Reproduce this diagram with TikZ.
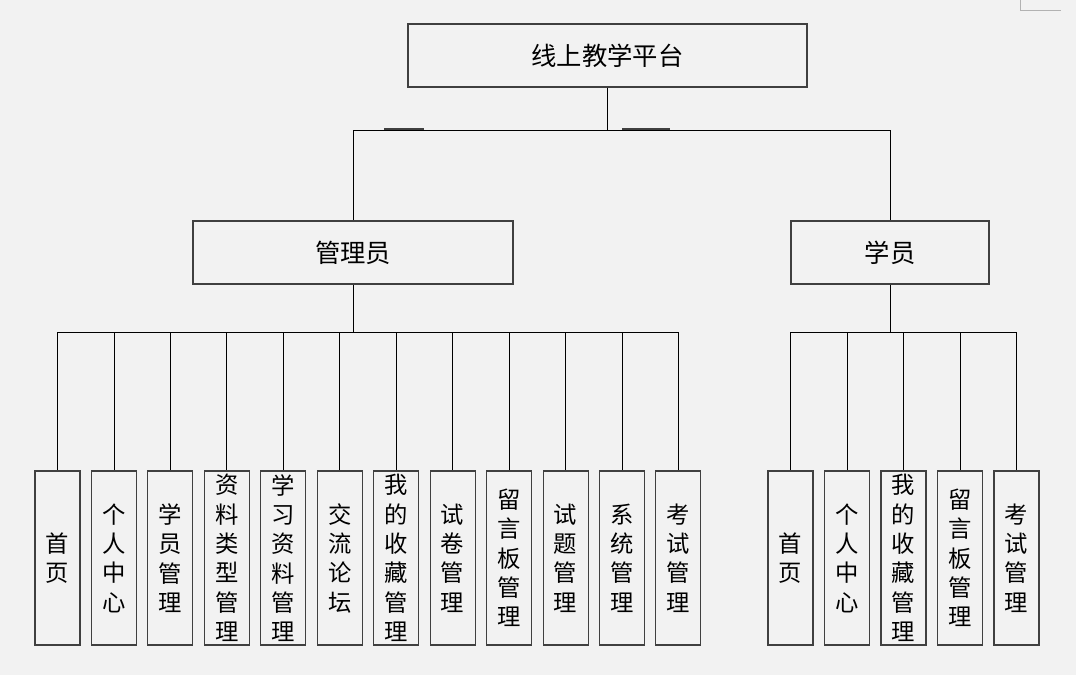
\documentclass[tikz,border=0pt]{standalone}
\usepackage{fontspec}
\newfontfamily\cjk{Noto Sans CJK SC}
\usepackage{xcolor}
\definecolor{bggray}{HTML}{F2F2F2}
\definecolor{boxline}{HTML}{404040}

\begin{document}
\begin{tikzpicture}[x=0.75pt,y=-0.75pt,
    box/.style={draw=boxline, fill=bggray, line width=0.8pt, inner sep=0pt,
        font=\cjk\fontsize{19}{22}\selectfont},
    leaf/.style={box, minimum width=33.75pt, minimum height=130.5pt, align=center,
        font=\cjk\fontsize{17.5}{22}\selectfont},
    link/.style={draw=black, line width=0.6pt}]
    \useasboundingbox[fill=bggray] (0,0) rectangle (1076,675);
    \draw[gray!60] (1020,0) -- (1020,10) -- (1061,10);

    % top levels
    \node[box, minimum width=299.25pt, minimum height=47.25pt] (root) at (607.5,55.5) {线上教学平台};
    \node[box, minimum width=240pt, minimum height=47.25pt] (adm) at (353,252.5) {管理员};
    \node[box, minimum width=148.5pt, minimum height=47.25pt] (stu) at (890,252.5) {学员};

    \coordinate (top) at (607.5,130);
    \coordinate (abus) at (353,332);
    \coordinate (sbus) at (890,332);

    \draw[link] (root) -- (top) -| (adm);
    \draw[link] (top) -| (stu);
    \draw[boxline, line width=1.4pt] (384,129.2) -- (424,129.2) (622,129.2) -- (670,129.2);
    \draw[link] (adm) -- (abus);
    \draw[link] (stu) -- (sbus);

    % leaves
    \foreach \t [count=\i] in {{首\\页}, {个\\人\\中\\心}, {学\\员\\管\\理}, {资\\料\\类\\型\\管\\理},
        {学\\习\\资\\料\\管\\理}, {交\\流\\论\\坛}, {我\\的\\收\\藏\\管\\理}, {试\\卷\\管\\理},
        {留\\言\\板\\管\\理}, {试\\题\\管\\理}, {系\\统\\管\\理}, {考\\试\\管\\理}} {
        \node[leaf] (a\i) at ({57.5+56.45*(\i-1)},558) {\t};
        \draw[link] (abus) -| (a\i.north);
    }
    \foreach \t [count=\i] in {{首\\页}, {个\\人\\中\\心}, {我\\的\\收\\藏\\管\\理},
        {留\\言\\板\\管\\理}, {考\\试\\管\\理}} {
        \node[leaf] (s\i) at ({790.5+56.5*(\i-1)},558) {\t};
        \draw[link] (sbus) -| (s\i.north);
    }
\end{tikzpicture}
\end{document}
